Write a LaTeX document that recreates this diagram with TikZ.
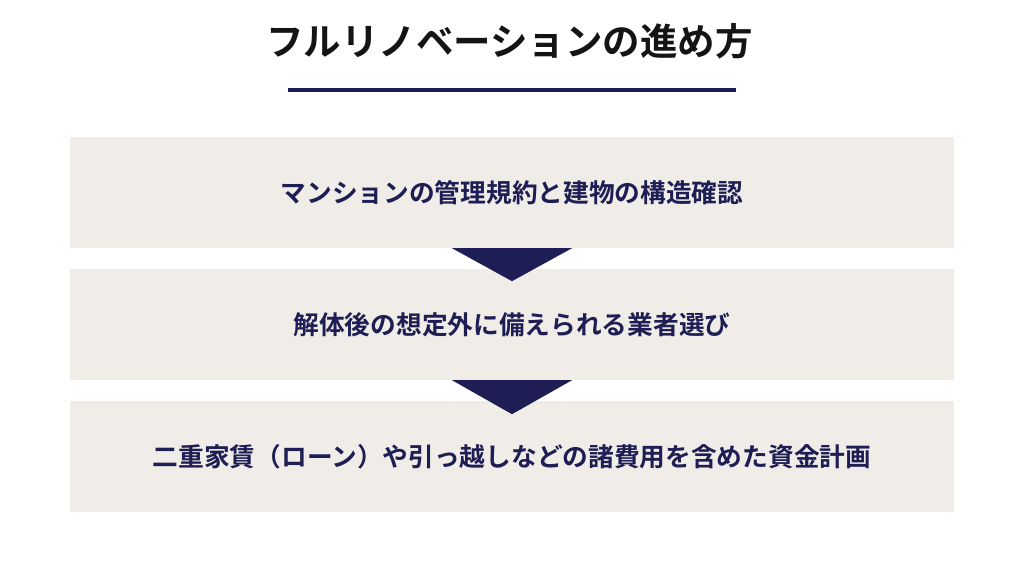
\documentclass[tikz,border=0pt]{standalone}
\usepackage{fontspec}
\setmainfont{Noto Sans CJK JP}[BoldFont={* Bold}]
\newfontfamily\jpbold{Noto Sans CJK JP Bold}
\definecolor{navy}{RGB}{31,30,84}
\definecolor{boxbg}{RGB}{240,237,233}
\definecolor{titleblack}{RGB}{20,20,20}
\tikzset{
  stepbox/.style={fill=boxbg, draw=none, minimum width=884pt, minimum height=111pt, inner sep=0pt,
    text=navy, font=\jpbold\fontsize{25.7}{28}\selectfont},
  titletext/.style={text=titleblack, font=\jpbold\fontsize{37.5}{40}\selectfont, inner sep=0pt},
  arrowtri/.style={fill=navy, draw=none}
}
\begin{document}
\begin{tikzpicture}[x=1pt,y=-1pt]
\useasboundingbox (0,0) rectangle (1024,576);
\fill[white] (0,0) rectangle (1024,576);
\node[titletext] (title) at (509.5,41) {フルリノベーションの進め方};
\coordinate (ulL) at (288,89.5);
\coordinate (ulR) at (736,89.5);
\draw[navy, line width=4pt] (ulL) -- (ulR);
\node[stepbox] (b1) at (512,192.5) {マンションの管理規約と建物の構造確認};
\node[stepbox] (b2) at (512,324.5) {解体後の想定外に備えられる業者選び};
\node[stepbox] (b3) at (512,456.5) {二重家賃（ローン）や引っ越しなどの諸費用を含めた資金計画};
\fill[arrowtri] ([xshift=-60pt]b1.south) -- ([xshift=60pt]b1.south) -- ([yshift=-33pt]b1.south) -- cycle;
\fill[arrowtri] ([xshift=-60pt]b2.south) -- ([xshift=60pt]b2.south) -- ([yshift=-34pt]b2.south) -- cycle;
\end{tikzpicture}
\end{document}
